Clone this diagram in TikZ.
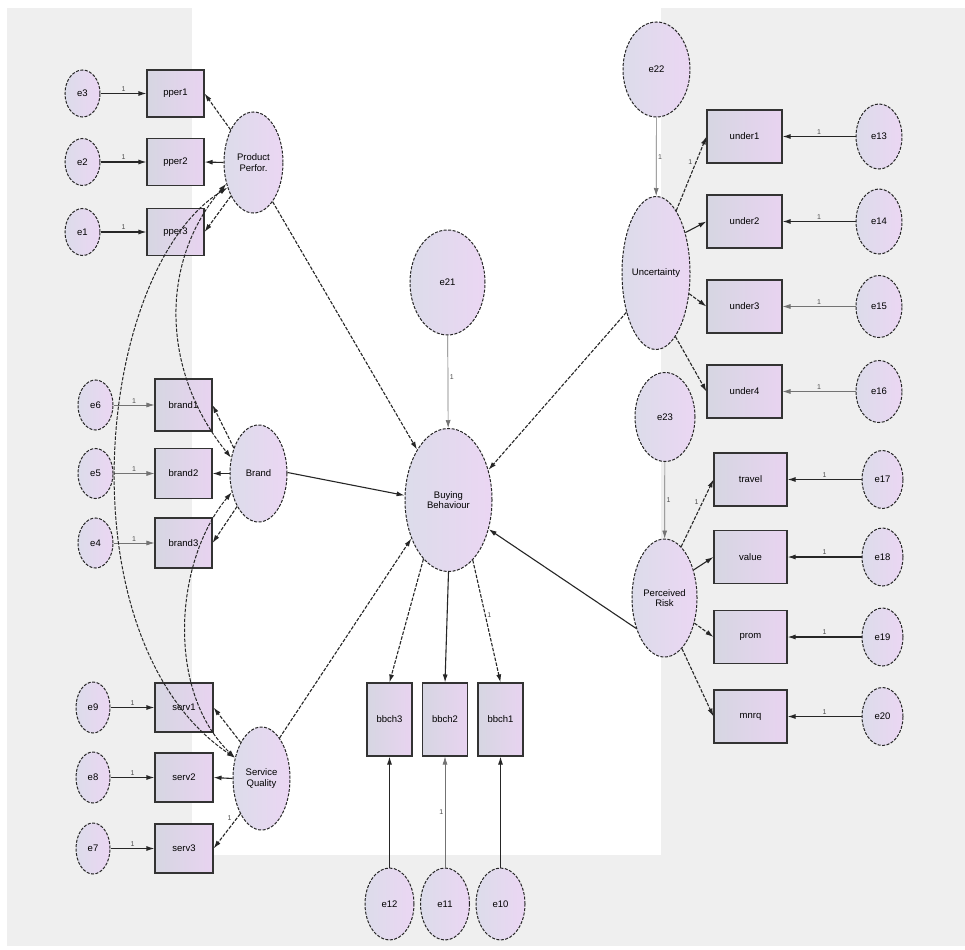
\documentclass[tikz,border=0pt]{standalone}
\usepackage{fontspec}
\setmainfont{Liberation Sans}
\usetikzlibrary{shapes.geometric,arrows.meta}
\definecolor{bgg}{HTML}{EFEFEF}
\definecolor{lb}{HTML}{DCDCEA}
\definecolor{lp}{HTML}{EBD6F3}
\definecolor{bb}{HTML}{D6D6E2}
\definecolor{bp}{HTML}{E8D3F0}
\begin{document}
\begin{tikzpicture}[x=1pt,y=-1pt,
  lat/.style={ellipse, draw=black!85, dash pattern=on 3pt off 1.5pt, line width=1pt, left color=lb, right color=lp, inner sep=0pt, align=center, font=\fontsize{9.5}{10.5}\selectfont},
  obs/.style={rectangle, draw=black!80, line width=1.1pt, left color=bb, right color=bp, inner sep=0pt, font=\fontsize{9.5}{10.5}\selectfont},
  arr/.style={-{Latex[length=8pt,width=5pt]}, line width=1.1pt, draw=black!85},
  darr/.style={arr, dash pattern=on 3.5pt off 1.5pt},
  tarr/.style={arr, line width=0.7pt, draw=black!55},
  cov/.style={{Latex[length=8pt,width=5pt]}-{Latex[length=8pt,width=5pt]}, line width=1pt, dash pattern=on 3.5pt off 1.5pt, draw=black!85},
  one/.style={font=\fontsize{7}{8}\selectfont, text=black!70, inner sep=1.5pt}
]
\useasboundingbox (0,0) rectangle (965,949);
\fill[bgg] (7,8) rectangle (965,946);
\fill[white] (192,8) rectangle (661,855);

% ---------- left: Product Perfor.
\node[lat, minimum width=35pt, minimum height=47pt] (e3) at (82.5,93.5) {e3};
\node[lat, minimum width=35pt, minimum height=47pt] (e2) at (82.5,162) {e2};
\node[lat, minimum width=35pt, minimum height=47pt] (e1) at (82.5,232) {e1};
\node[obs, minimum width=57pt, minimum height=47pt] (pper1) at (175.5,93.5) {pper1};
\node[obs, minimum width=57pt, minimum height=47pt] (pper2) at (175.5,162) {pper2};
\node[obs, minimum width=57pt, minimum height=47pt] (pper3) at (175.5,232) {pper3};
\node[lat, minimum width=59pt, minimum height=101pt] (PP) at (253.5,162.5) {Product\\Perfor.};

% ---------- left: Brand
\node[lat, minimum width=35pt, minimum height=50pt] (e6) at (95.5,405) {e6};
\node[lat, minimum width=35pt, minimum height=50pt] (e5) at (95.5,473.5) {e5};
\node[lat, minimum width=35pt, minimum height=50pt] (e4) at (95.5,543) {e4};
\node[obs, minimum width=57pt, minimum height=52pt] (brand1) at (183.5,405) {brand1};
\node[obs, minimum width=57pt, minimum height=50pt] (brand2) at (183.5,473.5) {brand2};
\node[obs, minimum width=57pt, minimum height=50pt] (brand3) at (183.5,543) {brand3};
\node[lat, minimum width=57pt, minimum height=97pt] (Brand) at (258.5,473.5) {Brand};

% ---------- left: Service Quality
\node[lat, minimum width=34pt, minimum height=51pt] (e9) at (93,707.5) {e9};
\node[lat, minimum width=34pt, minimum height=51pt] (e8) at (93,777.5) {e8};
\node[lat, minimum width=34pt, minimum height=51pt] (e7) at (93,848.5) {e7};
\node[obs, minimum width=58pt, minimum height=49pt] (serv1) at (184,707.5) {serv1};
\node[obs, minimum width=58pt, minimum height=49pt] (serv2) at (184,777.5) {serv2};
\node[obs, minimum width=58pt, minimum height=49pt] (serv3) at (184,848.5) {serv3};
\node[lat, minimum width=57pt, minimum height=103pt] (SQ) at (261.5,778.5) {Service\\Quality};

% ---------- middle
\node[lat, minimum width=75pt, minimum height=105pt] (e21) at (447.5,282.5) {e21};
\node[lat, minimum width=87pt, minimum height=143pt] (BB) at (448.5,500) {Buying\\Behaviour};
\node[obs, minimum width=45pt, minimum height=73pt] (bbch3) at (389.5,719.5) {bbch3};
\node[obs, minimum width=45pt, minimum height=73pt] (bbch2) at (445,719.5) {bbch2};
\node[obs, minimum width=45pt, minimum height=73pt] (bbch1) at (500.5,719.5) {bbch1};
\node[lat, minimum width=49pt, minimum height=72pt] (e12) at (389.5,904) {e12};
\node[lat, minimum width=49pt, minimum height=72pt] (e11) at (445,904) {e11};
\node[lat, minimum width=49pt, minimum height=72pt] (e10) at (500.5,904) {e10};

% ---------- right: Uncertainty
\node[lat, minimum width=67pt, minimum height=95pt] (e22) at (656.5,69.5) {e22};
\node[lat, minimum width=68pt, minimum height=153pt] (U) at (656,273) {Uncertainty};
\node[obs, minimum width=75pt, minimum height=53pt] (under1) at (744.5,136.5) {under1};
\node[obs, minimum width=75pt, minimum height=53pt] (under2) at (744.5,221.5) {under2};
\node[obs, minimum width=75pt, minimum height=53pt] (under3) at (744.5,306.5) {under3};
\node[obs, minimum width=75pt, minimum height=53pt] (under4) at (744.5,391.5) {under4};
\node[lat, minimum width=46pt, minimum height=65pt] (e13) at (879,136.5) {e13};
\node[lat, minimum width=46pt, minimum height=65pt] (e14) at (879,221.5) {e14};
\node[lat, minimum width=46pt, minimum height=62pt] (e15) at (879,306.5) {e15};
\node[lat, minimum width=46pt, minimum height=62pt] (e16) at (879,391.5) {e16};

% ---------- right: Perceived Risk
\node[lat, minimum width=60pt, minimum height=89pt] (e23) at (665,417) {e23};
\node[lat, minimum width=65pt, minimum height=118pt] (PR) at (664.5,598) {Perceived\\Risk};
\node[obs, minimum width=73pt, minimum height=53pt] (travel) at (750.5,479.5) {travel};
\node[obs, minimum width=73pt, minimum height=53pt] (value) at (750.5,557) {value};
\node[obs, minimum width=73pt, minimum height=53pt] (prom) at (750.5,637) {prom};
\node[obs, minimum width=73pt, minimum height=53pt] (mnrq) at (750.5,716.5) {mnrq};
\node[lat, minimum width=41pt, minimum height=58pt] (e17) at (882.5,479.5) {e17};
\node[lat, minimum width=41pt, minimum height=58pt] (e18) at (882.5,557) {e18};
\node[lat, minimum width=41pt, minimum height=58pt] (e19) at (882.5,637) {e19};
\node[lat, minimum width=41pt, minimum height=58pt] (e20) at (882.5,716.5) {e20};

% ---------- error -> indicator arrows (left)
\draw[arr] (e3) -- node[one,above]{1} (pper1);
\draw[arr] (e2) -- node[one,above]{1} (pper2);
\draw[arr] (e1) -- node[one,above]{1} (pper3);
\draw[tarr] (e6) -- node[one,above]{1} (brand1);
\draw[tarr] (e5) -- node[one,above]{1} (brand2);
\draw[tarr] (e4) -- node[one,above]{1} (brand3);
\draw[arr] (e9) -- node[one,above]{1} (serv1);
\draw[arr] (e8) -- node[one,above]{1} (serv2);
\draw[arr] (e7) -- node[one,above]{1} (serv3);

% ---------- loadings (left)
\draw[darr] (PP.125) -- (pper1.east);
\draw[arr] (PP.180) -- (pper2.east);
\draw[darr] (PP.236) -- (pper3.east);
\draw[darr] (Brand.134) -- (brand1.east);
\draw[arr] (Brand.180) -- (brand2.east);
\draw[darr] (Brand.237) -- (brand3.east);
\draw[darr] (SQ.120) -- (serv1.east);
\draw[arr] (SQ.180) -- (serv2.east);
\draw[darr] (SQ.239) -- node[one, pos=0.25, above left]{1} (serv3.east);

% ---------- covariances
\draw[cov] (PP.218) .. controls (160,260) and (160,370) .. (Brand.150);
\draw[cov] (PP.224) .. controls (95,270) and (60,640) .. (SQ.142);
\draw[cov] (Brand.215) .. controls (175,560) and (165,690) .. (SQ.142);

% ---------- structural paths
\draw[darr] (PP.-64) -- (BB.122);
\draw[arr] (Brand.2) -- (BB.174);
\draw[darr] (SQ.66) -- (BB.226);
\draw[darr] (U.233) -- (BB.37);
\draw[arr] (PR.227) -- (BB.-36);
\draw[tarr] (e21) -- node[one, right, pos=0.45]{1} (BB);

% ---------- Buying Behaviour indicators
\draw[darr] (BB.-113) -- (bbch3.north);
\draw[arr] (BB.south) -- (bbch2.north);
\draw[darr] (BB.-68) -- node[one, right, pos=0.45]{1} (bbch1.north);
\draw[arr] (e12) -- (bbch3);
\draw[tarr] (e11) -- node[one,left]{1} (bbch2);
\draw[arr] (e10) -- (bbch1);

% ---------- Uncertainty
\draw[tarr] (e22) -- node[one,right]{1} (U);
\draw[darr] (U.72) -- node[one, above left, pos=0.6]{1} (under1.west);
\draw[arr] (U.54) -- (under2.west);
\draw[darr] (U.-32) -- (under3.west);
\draw[darr] (U.-73) -- (under4.west);
\draw[arr] (e13) -- node[one,above]{1} (under1);
\draw[arr] (e14) -- node[one,above]{1} (under2);
\draw[tarr] (e15) -- node[one,above]{1} (under3);
\draw[tarr] (e16) -- node[one,above]{1} (under4);

% ---------- Perceived Risk
\draw[tarr] (e23) -- node[one,right]{1} (PR);
\draw[darr] (PR.72) -- node[one, above left, pos=0.6]{1} (travel.west);
\draw[arr] (PR.44) -- (value.west);
\draw[darr] (PR.-40) -- (prom.west);
\draw[darr] (PR.-71) -- (mnrq.west);
\draw[arr] (e17) -- node[one,above]{1} (travel);
\draw[arr] (e18) -- node[one,above]{1} (value);
\draw[arr] (e19) -- node[one,above]{1} (prom);
\draw[arr] (e20) -- node[one,above]{1} (mnrq);
\end{tikzpicture}
\end{document}
